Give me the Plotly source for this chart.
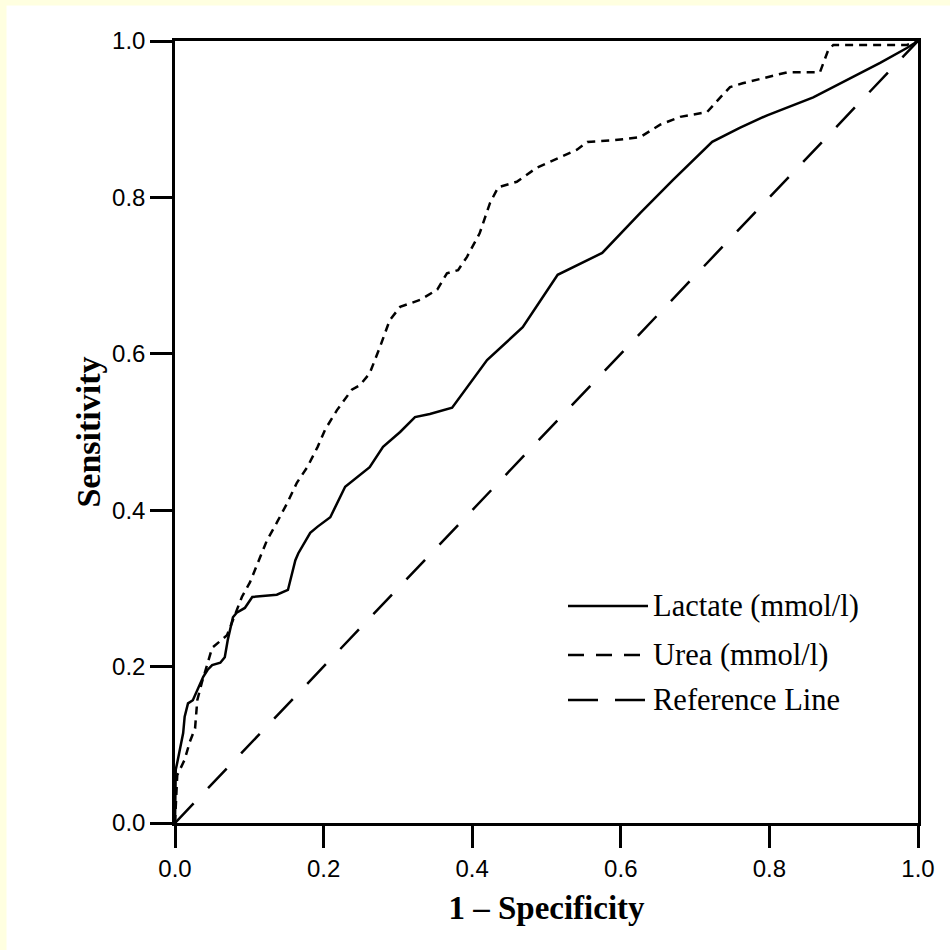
import plotly.graph_objects as go

# ---- data ----
lactate_fpr = [0, 0.001, 0.003, 0.011, 0.013, 0.0175, 0.024, 0.038, 0.044, 0.05, 0.061, 0.067, 0.071,
               0.078, 0.083, 0.094, 0.104, 0.137, 0.152, 0.162, 0.166, 0.182, 0.192, 0.209, 0.229,
               0.245, 0.262, 0.280, 0.303, 0.323, 0.343, 0.373, 0.420, 0.468, 0.515, 0.575, 0.616,
               0.626, 0.670, 0.723, 0.760, 0.797, 0.859, 0.904, 0.949, 0.985, 1.0]
lactate_tpr = [0, 0.068, 0.077, 0.115, 0.136, 0.153, 0.157, 0.187, 0.196, 0.202, 0.205, 0.212, 0.234,
               0.263, 0.269, 0.275, 0.289, 0.292, 0.298, 0.336, 0.345, 0.371, 0.379, 0.391, 0.430,
               0.442, 0.455, 0.481, 0.500, 0.519, 0.523, 0.531, 0.592, 0.634, 0.701, 0.729, 0.771,
               0.780, 0.822, 0.871, 0.889, 0.905, 0.928, 0.950, 0.972, 0.991, 1.0]

urea_fpr = [0, 0.003, 0.013, 0.020, 0.027, 0.030, 0.036, 0.050, 0.070, 0.090, 0.101, 0.114, 0.124,
            0.137, 0.151, 0.164, 0.178, 0.192, 0.202, 0.218, 0.238, 0.249, 0.262, 0.276, 0.289,
            0.303, 0.330, 0.353, 0.366, 0.381, 0.393, 0.410, 0.424, 0.435, 0.460, 0.487, 0.514,
            0.541, 0.555, 0.590, 0.626, 0.653, 0.680, 0.716, 0.734, 0.747, 0.764, 0.797, 0.824,
            0.868, 0.879, 0.886, 0.985, 1.0]
urea_tpr = [0, 0.061, 0.081, 0.104, 0.121, 0.157, 0.179, 0.224, 0.240, 0.289, 0.308, 0.340, 0.362,
            0.384, 0.409, 0.435, 0.455, 0.481, 0.503, 0.528, 0.554, 0.560, 0.575, 0.609, 0.643,
            0.660, 0.669, 0.682, 0.703, 0.707, 0.724, 0.754, 0.793, 0.813, 0.820, 0.838, 0.850,
            0.861, 0.871, 0.873, 0.877, 0.893, 0.903, 0.909, 0.928, 0.941, 0.946, 0.954, 0.960,
            0.960, 0.988, 0.995, 0.995, 1.0]

ref_x = [0, 1]
ref_y = [0, 1]

tick_vals = [0.0, 0.2, 0.4, 0.6, 0.8, 1.0]
tick_text = ["0.0", "0.2", "0.4", "0.6", "0.8", "1.0"]

legend_names = ["Lactate (mmol/l)", "Urea (mmol/l)", "Reference Line"]

# ---- figure ----
SERIF = "Liberation Serif, Times New Roman, serif"
SANS = "Liberation Sans, Arial, sans-serif"

fig = go.Figure()
fig.add_trace(go.Scatter(x=lactate_fpr, y=lactate_tpr, mode="lines", name=legend_names[0],
                         line=dict(color="black", width=2.5), showlegend=False))
fig.add_trace(go.Scatter(x=urea_fpr, y=urea_tpr, mode="lines", name=legend_names[1],
                         line=dict(color="black", width=2.5, dash="8px,6px"), showlegend=False))
fig.add_trace(go.Scatter(x=ref_x, y=ref_y, mode="lines", name=legend_names[2],
                         line=dict(color="black", width=2.5, dash="27px,21px"), showlegend=False))

L, R, T, B = 175, 32, 41, 127
W, H = 950, 950
pw, ph = W - L - R, H - T - B


def px(xp):
    return (xp - L) / pw


def py(yp):
    return (H - B - yp) / ph


shapes = [
    # pale yellow strips at the left and top edges
    dict(type="rect", xref="paper", yref="paper", x0=px(0), x1=px(6.5), y0=py(950), y1=py(0),
         fillcolor="#FFFFE0", line=dict(width=0), layer="below"),
    dict(type="rect", xref="paper", yref="paper", x0=px(0), x1=px(950), y0=py(5.5), y1=py(0),
         fillcolor="#FFFFE0", line=dict(width=0), layer="below"),
]

legend_y = [606, 655, 700]
legend_dash = ["solid", "16px,12px", "30px,17px"]
legend_x1 = [648, 640, 645]
annotations = []
for name, yy, dsh, x1 in zip(legend_names, legend_y, legend_dash, legend_x1):
    shapes.append(dict(type="line", xref="paper", yref="paper", x0=px(568), x1=px(x1),
                       y0=py(yy), y1=py(yy), line=dict(color="black", width=2.5, dash=dsh)))
    annotations.append(dict(xref="paper", yref="paper", x=px(651), y=py(yy), text=name,
                            showarrow=False, xanchor="left", yanchor="middle",
                            font=dict(family=SERIF, size=30.5, color="black")))

axis_common = dict(
    range=[0, 1], tickvals=tick_vals, ticktext=tick_text, showgrid=False, zeroline=False,
    showline=True, linecolor="black", linewidth=2.5, mirror=True,
    ticks="outside", ticklen=22, tickwidth=2.5, tickcolor="black",
    tickfont=dict(family=SANS, size=24, color="black"),
)

fig.update_layout(
    width=W, height=H,
    margin=dict(l=L, r=R, t=T, b=B, pad=0),
    paper_bgcolor="white", plot_bgcolor="white",
    xaxis=dict(**axis_common,
               title=dict(text="<b>1 – Specificity</b>", standoff=16,
                          font=dict(family=SERIF, size=33, color="black"))),
    yaxis=dict(**axis_common,
               title=dict(text="<b>Sensitivity</b>", standoff=2,
                          font=dict(family=SERIF, size=34, color="black"))),
    shapes=shapes, annotations=annotations, showlegend=False,
)

fig.write_html("out.html", config={"displayModeBar": False},
               post_script="document.body.style.margin='0px';")
